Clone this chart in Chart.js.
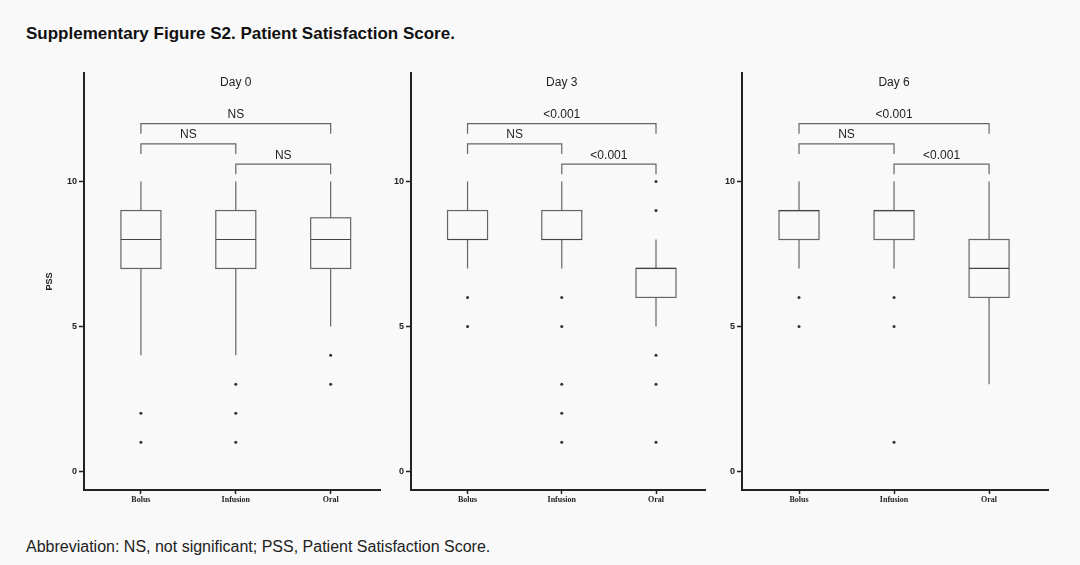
<!DOCTYPE html>
<html><head><meta charset="utf-8">
<script src="https://cdn.jsdelivr.net/npm/chart.js@4"></script>
<style>
body{margin:0;background:#f9f9f9;width:1080px;height:565px;position:relative;font-family:"Liberation Sans",Arial,sans-serif;overflow:hidden}
#title{position:absolute;left:26px;top:24px;font-size:17px;font-weight:bold;color:#111}
#foot{position:absolute;left:26px;top:538px;font-size:16px;color:#222}
canvas{position:absolute}
</style></head><body>
<div id="title">Supplementary Figure S2. Patient Satisfaction Score.</div>
<canvas id="c0" style="left:44px;top:60px" width="341" height="460"></canvas>
<canvas id="c1" style="left:380px;top:60px" width="330" height="460"></canvas>
<canvas id="c2" style="left:711px;top:60px" width="342" height="460"></canvas>
<div id="foot">Abbreviation: NS, not significant; PSS, Patient Satisfaction Score.</div>
<script>
// groups and panels
const groups = ['Bolus', 'Infusion', 'Oral'];
const days = ['Day 0', 'Day 3', 'Day 6'];
const yTicks = [0, 5, 10];

// box stats per panel: [min, q1, median, q3, max] for Bolus, Infusion, Oral
const day0Box = [[4, 7, 8, 9, 10], [4, 7, 8, 9, 10], [5, 7, 8, 8.75, 10]];
const day3Box = [[7, 8, 8, 9, 10], [7, 8, 8, 9, 10], [5, 6, 7, 7, 8]];
const day6Box = [[7, 8, 9, 9, 10], [7, 8, 9, 9, 10], [3, 6, 7, 8, 10]];

// outliers per panel
const day0Out = [[2, 1], [3, 2, 1], [4, 3]];
const day3Out = [[6, 5], [6, 5, 3, 2, 1], [10, 9, 4, 3, 1]];
const day6Out = [[6, 5], [6, 5, 1], []];

// comparison labels: Bolus-Oral, Bolus-Infusion, Infusion-Oral
const day0P = ['NS', 'NS', 'NS'];
const day3P = ['<0.001', 'NS', '<0.001'];
const day6P = ['<0.001', 'NS', '<0.001'];

const boxes = [day0Box, day3Box, day6Box];
const outs = [day0Out, day3Out, day6Out];
const pvals = [day0P, day3P, day6P];
const xMax = [3.52, 3.52, 3.62];

const boxPlugin = {
    id: 'boxes',
    afterDatasetsDraw(chart, args, opts) {
        const ctx = chart.ctx, x = chart.scales.x, y = chart.scales.y;
        const st = opts.stats;
        ctx.save();
        ctx.strokeStyle = '#666';
        ctx.lineWidth = 1.2;
        st.forEach((s, i) => {
            const cx = x.getPixelForValue(i + 1);
            const hw = 20;
            const [mn, q1, md, q3, mx] = s.map(v => y.getPixelForValue(v));
            ctx.beginPath();
            ctx.moveTo(cx, mx); ctx.lineTo(cx, q3);
            ctx.moveTo(cx, q1); ctx.lineTo(cx, mn);
            ctx.stroke();
            ctx.strokeRect(cx - hw, q3, hw * 2, q1 - q3);
            ctx.beginPath();
            ctx.moveTo(cx - hw, md); ctx.lineTo(cx + hw, md);
            ctx.strokeStyle = '#444';
            ctx.stroke();
            ctx.strokeStyle = '#666';
        });
        // brackets
        const br = [[1, 3, 12.0], [1, 2, 11.3], [2, 3, 10.6]];
        ctx.font = '12px "Liberation Sans", Arial';
        ctx.fillStyle = '#222';
        ctx.textAlign = 'center';
        ctx.textBaseline = 'bottom';
        br.forEach((b, k) => {
            const x1 = x.getPixelForValue(b[0]), x2 = x.getPixelForValue(b[1]);
            const yt = y.getPixelForValue(b[2]), yb = y.getPixelForValue(b[2] - 0.35);
            ctx.beginPath();
            ctx.moveTo(x1, yb); ctx.lineTo(x1, yt); ctx.lineTo(x2, yt); ctx.lineTo(x2, yb);
            ctx.stroke();
            ctx.fillText(opts.p[k], (x1 + x2) / 2, yt - 3);
        });
        ctx.fillText(opts.day, x.getPixelForValue(2), y.getPixelForValue(13.2));
        ctx.restore();
    }
};

boxes.forEach((b, p) => {
    const pts = [];
    outs[p].forEach((o, i) => o.forEach(v => pts.push({ x: i + 1, y: v })));
    const yw = p === 0 ? 40 : 31;
    new Chart(document.getElementById('c' + p), {
        type: 'scatter',
        data: { datasets: [{ data: pts, pointRadius: 1.5, backgroundColor: '#333', borderWidth: 0 }] },
        options: {
            responsive: false, animation: false,
            layout: { padding: { top: 13, right: 5 } },
            plugins: {
                legend: { display: false }, tooltip: { enabled: false },
                boxes: { stats: b, p: pvals[p], day: days[p] }
            },
            scales: {
                x: {
                    type: 'linear', min: 0.4, max: xMax[p],
                    afterBuildTicks: s => { s.ticks = [1, 2, 3].map(v => ({ value: v })); },
                    afterFit: s => { s.height = 30; },
                    grid: { display: true, drawOnChartArea: false, drawTicks: true, tickLength: 4, tickColor: '#222', tickWidth: 1.5 },
                    border: { color: '#222', width: 2 },
                    ticks: { callback: v => groups[v - 1], color: '#222', padding: 1, font: { family: 'Liberation Serif', size: 8, weight: 'bold' }, maxRotation: 0 }
                },
                y: {
                    min: -0.65, max: 13.75,
                    afterBuildTicks: s => { s.ticks = yTicks.map(v => ({ value: v })); },
                    afterFit: s => { s.width = yw; },
                    grid: { display: true, drawOnChartArea: false, drawTicks: true, tickLength: 5, tickColor: '#222', tickWidth: 1.5 },
                    border: { color: '#222', width: 2 },
                    title: { display: p === 0, text: 'PSS', color: '#222', padding: 0, font: { size: 9, weight: 'bold' } },
                    ticks: { color: '#222', padding: 2, font: { size: 9, weight: 'bold' } }
                }
            }
        },
        plugins: [boxPlugin]
    });
});
</script>
</body></html>
